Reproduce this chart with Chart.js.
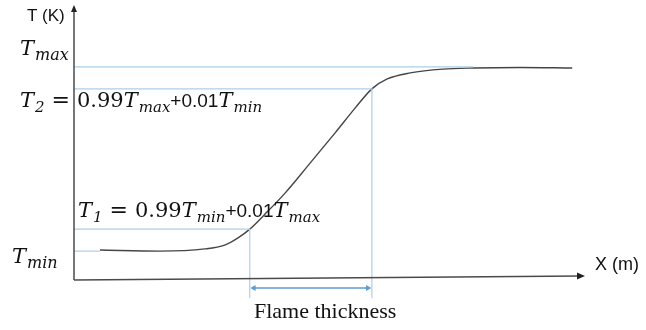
<!DOCTYPE html>
<html>
<head>
<meta charset="utf-8">
<script src="https://cdn.jsdelivr.net/npm/chart.js@4"></script>
<style>
  html, body { margin: 0; padding: 0; background: #fff; }
  #wrap { width: 646px; height: 330px; }
</style>
</head>
<body>
<div id="wrap"><canvas id="flame" width="646" height="330"></canvas></div>
<script>
// Профиль температуры через фронт пламени (условные единицы)
const curveX = [5.1, 16.8, 25.6, 29.5, 32.1, 34.4, 37.4, 41.3, 46.2, 51.1, 55.0, 58.3, 61.3, 65.8, 72.2, 78.1, 87.3, 97.5];
const curveT = [10.9, 10.5, 11.3, 12.7, 15.3, 18.5, 24.0, 31.6, 42.5, 53.5, 62.5, 69.5, 73.1, 75.3, 76.7, 77.1, 77.3, 77.1];

// Уровни температур
const tMax = 77.5;
const t2 = 69.5;
const t1 = 18.5;
const tMin = 10.5;

// Абсциссы опорных точек
const xStart = 5.1;    // начало кривой
const x1 = 34.4;       // пересечение с T1
const x2 = 58.3;       // пересечение с T2
const xPlateau = 78.1; // выход на Tmax
const arrowY = -2.9;   // уровень стрелки толщины
const dropY = -6.5;    // низ вертикальных линий

const guideColor = '#aecde9';
const arrowColor = '#5b9bd5';

const math = 'DejaVu Serif';

function drawRich(ctx, x, y, parts) {
    parts.forEach(p => {
        ctx.font = p.font;
        ctx.fillText(p.t, x, y + (p.dy || 0));
        x += ctx.measureText(p.t).width + (p.gap || 0);
    });
}

function T(sub, size, subSize) {
    return [
        { t: 'T', font: `italic ${size}px ${math}`, gap: 1 },
        { t: sub, font: `italic ${subSize}px ${math}`, dy: Math.round(size * 0.25) }
    ];
}

const axesPlugin = {
    id: 'axes',
    afterDatasetsDraw(chart) {
        const { ctx, chartArea: a } = chart;
        const y0 = chart.scales.y.getPixelForValue(0);
        ctx.save();
        ctx.strokeStyle = '#4a4a4a';
        ctx.fillStyle = '#222';
        ctx.lineWidth = 1.5;
        // ось Y
        ctx.beginPath();
        ctx.moveTo(a.left, y0);
        ctx.lineTo(a.left, a.top + 4);
        ctx.stroke();
        ctx.beginPath();
        ctx.moveTo(a.left, a.top);
        ctx.lineTo(a.left - 3, a.top + 7);
        ctx.lineTo(a.left + 3, a.top + 7);
        ctx.closePath();
        ctx.fill();
        // ось X (немного наклонена, как на рисунке)
        ctx.beginPath();
        ctx.moveTo(a.left, y0);
        ctx.lineTo(a.right - 4, y0 - 4);
        ctx.stroke();
        ctx.beginPath();
        ctx.moveTo(a.right, y0 - 4);
        ctx.lineTo(a.right - 8, y0 - 7.5);
        ctx.lineTo(a.right - 8, y0 - 0.5);
        ctx.closePath();
        ctx.fill();
        ctx.restore();
    },
    afterDraw(chart) {
        const { ctx } = chart;
        const ys = chart.scales.y;
        ctx.save();
        ctx.fillStyle = '#111';
        ctx.textBaseline = 'alphabetic';

        ctx.font = '17px "Liberation Sans"';
        ctx.fillText('T (K)', 27, 21);
        ctx.font = '18px "Liberation Sans"';
        ctx.fillText('X (m)', 595, 270);

        drawRich(ctx, 20, ys.getPixelForValue(tMax) - 12, T('max', 21, 16));
        drawRich(ctx, 12, ys.getPixelForValue(tMin) + 12, T('min', 21, 16));

        const big = 21, sub = 15;
        drawRich(ctx, 20, ys.getPixelForValue(t2) + 18, [
            ...T('2', big, sub),
            { t: ' = ', font: `${big + 1}px ${math}` },
            { t: '0.99', font: `${big}px ${math}` },
            ...T('max', big, sub),
            { t: '+0.01', font: '19px "Liberation Sans"' },
            ...T('min', big, sub)
        ]);
        drawRich(ctx, 78, ys.getPixelForValue(t1) - 12, [
            ...T('1', big, sub),
            { t: ' = ', font: `${big + 1}px ${math}` },
            { t: '0.99', font: `${big}px ${math}` },
            ...T('min', big, sub),
            { t: '+0.01', font: '19px "Liberation Sans"' },
            ...T('max', big, sub)
        ]);

        ctx.font = '22px "Liberation Serif"';
        ctx.fillText('Flame thickness', 254, 318);
        ctx.restore();
    }
};

function seg(points, color, width) {
    return {
        data: points,
        borderColor: color,
        borderWidth: width,
        pointRadius: 0,
        tension: 0,
        clip: false
    };
}

const datasets = [
    seg([{ x: 0, y: tMax }, { x: xPlateau, y: tMax }], guideColor, 1.2),
    seg([{ x: 0, y: t2 }, { x: x2, y: t2 }, { x: x2, y: dropY }], guideColor, 1.2),
    seg([{ x: 0, y: t1 }, { x: x1, y: t1 }, { x: x1, y: dropY }], guideColor, 1.2),
    seg([{ x: 0, y: tMin }, { x: xStart, y: tMin }], guideColor, 1.2),
    {
        data: [{ x: x1 + 0.8, y: arrowY }, { x: x2 - 0.8, y: arrowY }],
        borderColor: arrowColor,
        backgroundColor: arrowColor,
        borderWidth: 1.3,
        pointStyle: 'triangle',
        pointRadius: 3.5,
        pointBorderWidth: 0,
        pointRotation: [270, 90],
        clip: false
    },
    {
        data: curveX.map((x, i) => ({ x, y: curveT[i] })),
        borderColor: '#454545',
        borderWidth: 1.4,
        pointRadius: 0,
        cubicInterpolationMode: 'monotone',
        clip: false
    }
];

new Chart(document.getElementById('flame'), {
    type: 'line',
    data: { datasets },
    options: {
        responsive: false,
        animation: false,
        layout: { padding: { left: 74, right: 61, top: 5, bottom: 22.5 } },
        plugins: { legend: { display: false }, tooltip: { enabled: false } },
        scales: {
            x: { type: 'linear', min: 0, max: 100, display: false },
            y: { type: 'linear', min: -10, max: 100, display: false }
        }
    },
    plugins: [axesPlugin]
});
</script>
</body>
</html>
